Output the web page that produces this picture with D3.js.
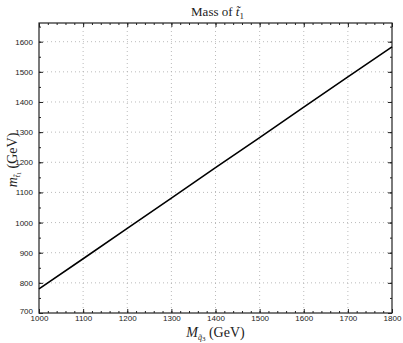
<!DOCTYPE html>
<html>
<head>
<meta charset="utf-8">
<script src="https://cdn.jsdelivr.net/npm/d3@7"></script>
<style>
  body { margin: 0; background: #fff; }
  .tick text { font-family: "Liberation Sans", Arial, sans-serif; font-size: 8px; fill: #222; }
  .lbl { font-family: "Liberation Serif", "DejaVu Serif", serif; fill: #222; }
</style>
</head>
<body>
<div id="chart"></div>
<script>
// data
let squarkMass = [1000, 1100, 1200, 1300, 1400, 1500, 1600, 1700, 1800];
let stopMass = [780, 880, 981, 1081, 1182, 1282, 1383, 1483, 1583];
let xTicks = [1000, 1100, 1200, 1300, 1400, 1500, 1600, 1700, 1800];
let yTicks = [700, 800, 900, 1000, 1100, 1200, 1300, 1400, 1500, 1600];

let svgWidth = 403;
let svgHeight = 343;
let margin = { top: 23, right: 11, bottom: 30, left: 39 };
let width = svgWidth - margin.left - margin.right;
let height = svgHeight - margin.top - margin.bottom;

let svg = d3.select("#chart").append("svg")
    .attr("width", svgWidth)
    .attr("height", svgHeight);

let g = svg.append("g")
    .attr("transform", `translate(${margin.left}, ${margin.top})`);

let x = d3.scaleLinear().domain([1000, 1800]).range([0, width]);
let y = d3.scaleLinear().domain([700, 1662]).range([height, 0]);

// dotted grid
g.selectAll(".vgrid").data(xTicks.slice(1, -1)).enter().append("line")
    .attr("x1", d => x(d)).attr("x2", d => x(d))
    .attr("y1", 0).attr("y2", height)
    .attr("stroke", "#aaa").attr("stroke-width", 0.8)
    .attr("stroke-dasharray", "1,3");
g.selectAll(".hgrid").data(yTicks.slice(1)).enter().append("line")
    .attr("x1", 0).attr("x2", width)
    .attr("y1", d => y(d)).attr("y2", d => y(d))
    .attr("stroke", "#aaa").attr("stroke-width", 0.8)
    .attr("stroke-dasharray", "1,3");

// minor ticks
let xMinor = d3.range(1000, 1801, 20);
let yMinor = d3.range(700, 1661, 50);

let bottomAxis = d3.axisBottom(x).tickValues(xTicks).tickFormat(d3.format("d")).tickSizeInner(-4).tickSizeOuter(0).tickPadding(2);
let leftAxis = d3.axisLeft(y).tickValues(yTicks).tickFormat(d3.format("d")).tickSizeInner(-4).tickSizeOuter(0).tickPadding(6);

g.append("g").attr("transform", `translate(0, ${height})`)
    .call(d3.axisBottom(x).tickValues(xMinor).tickFormat("").tickSizeInner(-2).tickSizeOuter(0))
    .call(a => a.select(".domain").remove());
g.append("g").attr("transform", `translate(0, 0)`)
    .call(d3.axisTop(x).tickValues(xMinor).tickFormat("").tickSizeInner(-2).tickSizeOuter(0))
    .call(a => a.select(".domain").remove());
g.append("g")
    .call(d3.axisLeft(y).tickValues(yMinor).tickFormat("").tickSizeInner(-2).tickSizeOuter(0))
    .call(a => a.select(".domain").remove());
g.append("g").attr("transform", `translate(${width}, 0)`)
    .call(d3.axisRight(y).tickValues(yMinor).tickFormat("").tickSizeInner(-2).tickSizeOuter(0))
    .call(a => a.select(".domain").remove());

g.append("g").attr("transform", `translate(0, ${height})`).call(bottomAxis)
    .call(a => a.select(".domain").remove());
g.append("g").call(leftAxis)
    .call(a => a.select(".domain").remove())
    // the lowest label sits a little higher so it clears the x labels
    .call(a => a.selectAll(".tick text").filter(d => d === 700).attr("dy", "0.05em"));
g.append("g")
    .call(d3.axisTop(x).tickValues(xTicks).tickFormat("").tickSizeInner(-4).tickSizeOuter(0))
    .call(a => a.select(".domain").remove());
g.append("g").attr("transform", `translate(${width}, 0)`)
    .call(d3.axisRight(y).tickValues(yTicks).tickFormat("").tickSizeInner(-4).tickSizeOuter(0))
    .call(a => a.select(".domain").remove());

g.selectAll(".tick line").attr("stroke", "#222");

// frame
g.append("rect")
    .attr("width", width).attr("height", height)
    .attr("fill", "none").attr("stroke", "#222").attr("stroke-width", 1.2);

// the line
let line = d3.line().x((d, i) => x(squarkMass[i])).y(d => y(d));
g.append("path")
    .datum(stopMass)
    .attr("d", line)
    .attr("fill", "none")
    .attr("stroke", "#000")
    .attr("stroke-width", 1.6);

// title
let title = svg.append("text").attr("class", "lbl")
    .attr("x", margin.left + width / 2 + 2).attr("y", 16)
    .attr("text-anchor", "middle").attr("font-size", 13);
title.append("tspan").text("Mass of ");
title.append("tspan").attr("font-style", "italic").text("t\u0303");
title.append("tspan").attr("font-size", 9).attr("dy", 3).text("1");

// x label
let xl = svg.append("text").attr("class", "lbl")
    .attr("x", margin.left + width / 2).attr("y", 337)
    .attr("text-anchor", "middle").attr("font-size", 14);
xl.append("tspan").attr("font-style", "italic").text("M");
xl.append("tspan").attr("font-size", 8).attr("font-style", "italic").attr("dy", 3).text("q\u0303");
xl.append("tspan").attr("font-size", 7).attr("dy", 1).text("3");
xl.append("tspan").attr("dy", -4).text(" (GeV)");

// y label
let yl = svg.append("text").attr("class", "lbl")
    .attr("transform", `translate(17, ${margin.top + height / 2 - 8}) rotate(-90)`)
    .attr("text-anchor", "middle").attr("font-size", 14);
yl.append("tspan").attr("font-style", "italic").text("m");
yl.append("tspan").attr("font-size", 8).attr("font-style", "italic").attr("dy", 3).text("t\u0303");
yl.append("tspan").attr("font-size", 6).attr("dy", 1).text("1");
yl.append("tspan").attr("dy", -4).text(" (GeV)");
</script>
</body>
</html>
